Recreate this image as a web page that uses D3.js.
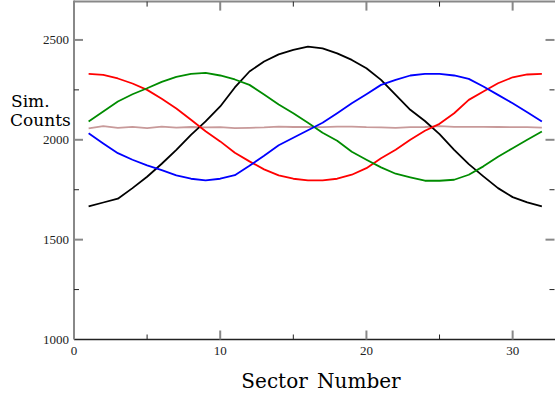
<!DOCTYPE html>
<html>
<head>
<meta charset="utf-8">
<script src="https://cdnjs.cloudflare.com/ajax/libs/d3/7.8.5/d3.min.js"></script>
<style>
  body { margin: 0; background: #fff; }
  svg { display: block; }
</style>
</head>
<body>
<svg width="555" height="396"></svg>
<script>
// sector numbers
var sectors = [1,2,3,4,5,6,7,8,9,10,11,12,13,14,15,16,17,18,19,20,21,22,23,24,25,26,27,28,29,30,31,32];

// simulated counts per sector, one array per curve
var blackCounts = [1667,1686,1705,1758,1815,1880,1950,2025,2092,2167,2262,2342,2392,2428,2450,2467,
                   2458,2433,2400,2358,2300,2225,2150,2094,2028,1950,1878,1817,1758,1713,1687,1667];
var redCounts   = [2330,2325,2307,2282,2250,2205,2157,2100,2043,1992,1935,1892,1852,1822,1805,1797,
                   1797,1805,1825,1858,1908,1950,2000,2045,2080,2133,2200,2242,2283,2313,2327,2330];
var greenCounts = [2092,2142,2192,2228,2258,2290,2315,2330,2335,2322,2302,2275,2227,2177,2133,2085,
                   2035,1995,1940,1900,1862,1830,1812,1795,1795,1800,1825,1867,1915,1958,2000,2042];
var blueCounts  = [2033,1982,1933,1900,1872,1848,1822,1805,1797,1805,1823,1870,1920,1973,2010,2048,
                   2085,2133,2183,2228,2275,2300,2322,2330,2330,2322,2305,2267,2225,2183,2138,2092];
var pinkCounts  = [2057,2068,2060,2065,2058,2066,2061,2064,2062,2063,2058,2060,2062,2066,2064,2065,
                   2063,2066,2066,2063,2062,2060,2063,2064,2068,2065,2065,2065,2064,2063,2063,2061];

var xMajor = [0,10,20,30];
var xMinor = [5,15,25];
var yMajor = [1000,1500,2000,2500];
var yMinor = [1250,1750,2250];

var svg = d3.select("svg");

var x = d3.scaleLinear().domain([0, 33]).range([74, 556.5]);
var y = d3.scaleLinear().domain([1000, 2700]).range([339.5, 0]);

var series = [
    {name: "pink",  values: pinkCounts,  color: "#c89a9a"},
    {name: "black", values: blackCounts, color: "#000000"},
    {name: "red",   values: redCounts,   color: "#ff0000"},
    {name: "green", values: greenCounts, color: "#008c00"},
    {name: "blue",  values: blueCounts,  color: "#0000ff"}
];

var line = d3.line()
    .x(function(d, i) { return x(sectors[i]); })
    .y(function(d) { return y(d); });

svg.append("g").attr("class", "lines")
    .selectAll("path")
    .data(series)
    .enter().append("path")
    .attr("fill", "none")
    .attr("stroke", function(d) { return d.color; })
    .attr("stroke-width", 1.8)
    .attr("stroke-linejoin", "round")
    .attr("d", function(d) { return line(d.values); });

var x0 = x(0), x1 = x(33), yb = y(1000), yt = y(2692);

// frame
var frame = svg.append("g").attr("class", "frame");
frame.append("line").attr("x1", x0).attr("x2", x1).attr("y1", yb).attr("y2", yb)
    .attr("stroke", "#222").attr("stroke-width", 1.5);
frame.append("line").attr("x1", x0).attr("x2", x1).attr("y1", yt).attr("y2", yt)
    .attr("stroke", "#888").attr("stroke-width", 2);
frame.append("line").attr("x1", x0).attr("x2", x0).attr("y1", yt - 1).attr("y2", yb)
    .attr("stroke", "#888").attr("stroke-width", 2);

// ticks on all four sides, pointing inward
var ticks = svg.append("g").attr("class", "ticks");
xMajor.forEach(function(v) {
    if (v === 0) return;
    ticks.append("line").attr("x1", x(v)).attr("x2", x(v)).attr("y1", yb).attr("y2", yb - 9)
        .attr("stroke", "#888").attr("stroke-width", 2);
    ticks.append("line").attr("x1", x(v)).attr("x2", x(v)).attr("y1", yt).attr("y2", yt + 9)
        .attr("stroke", "#888").attr("stroke-width", 2);
});
xMinor.forEach(function(v) {
    ticks.append("line").attr("x1", x(v)).attr("x2", x(v)).attr("y1", yb).attr("y2", yb - 5)
        .attr("stroke", "#222").attr("stroke-width", 1);
    ticks.append("line").attr("x1", x(v)).attr("x2", x(v)).attr("y1", yt).attr("y2", yt + 5)
        .attr("stroke", "#222").attr("stroke-width", 1);
});
yMajor.forEach(function(v) {
    if (v === 1000) return;
    ticks.append("line").attr("x1", x0).attr("x2", x0 + 9).attr("y1", y(v)).attr("y2", y(v))
        .attr("stroke", "#888").attr("stroke-width", 2);
    ticks.append("line").attr("x1", x1 - 2).attr("x2", x1 - 11).attr("y1", y(v)).attr("y2", y(v))
        .attr("stroke", "#888").attr("stroke-width", 2);
});
yMinor.forEach(function(v) {
    ticks.append("line").attr("x1", x0).attr("x2", x0 + 5).attr("y1", y(v)).attr("y2", y(v))
        .attr("stroke", "#222").attr("stroke-width", 1);
    ticks.append("line").attr("x1", x1 - 2).attr("x2", x1 - 7).attr("y1", y(v)).attr("y2", y(v))
        .attr("stroke", "#222").attr("stroke-width", 1);
});

// tick labels
var labels = svg.append("g").attr("class", "tick-labels")
    .style("font-family", "'Liberation Serif', 'Times New Roman', serif")
    .style("font-size", "13px")
    .attr("fill", "#222");
labels.selectAll("text.ylab")
    .data(yMajor)
    .enter().append("text")
    .attr("class", "ylab")
    .attr("x", 69)
    .attr("y", function(d) { return y(d) + 4.5; })
    .attr("text-anchor", "end")
    .text(function(d) { return d; });
labels.selectAll("text.xlab")
    .data(xMajor)
    .enter().append("text")
    .attr("class", "xlab")
    .attr("x", function(d) { return x(d); })
    .attr("y", 354.5)
    .attr("text-anchor", "middle")
    .text(function(d) { return d; });

// axis titles
var titles = svg.append("g").attr("class", "titles")
    .style("font-family", "'DejaVu Serif', serif")
    .attr("fill", "#000");
titles.append("text").attr("x", 11).attr("y", 107).style("font-size", "17px").text("Sim.");
titles.append("text").attr("x", 10).attr("y", 126).style("font-size", "17px").text("Counts");
titles.append("text").attr("x", 321).attr("y", 388).attr("text-anchor", "middle")
    .style("font-size", "20px").style("word-spacing", "3px").text("Sector Number");
</script>
</body>
</html>
